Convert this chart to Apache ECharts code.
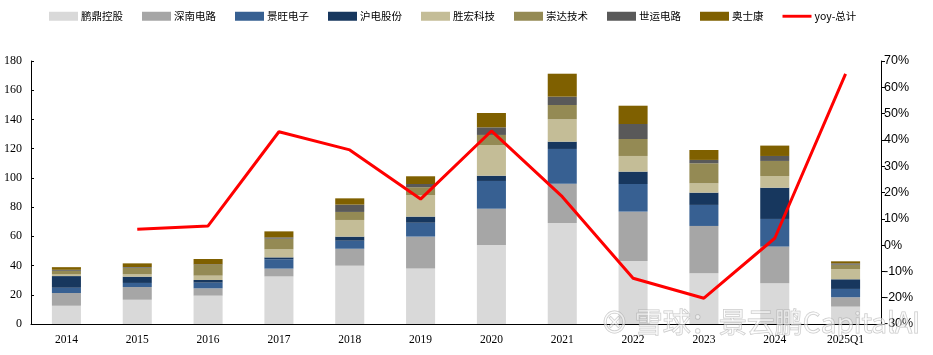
<!DOCTYPE html>
<html><head><meta charset="utf-8">
<script src="https://cdn.jsdelivr.net/npm/echarts@6/dist/echarts.min.js"></script>
<style>html,body{margin:0;padding:0;background:#fff}#c{width:933px;height:355px}</style>
</head><body><div id="c"></div>
<script>
var categories = ['2014','2015','2016','2017','2018','2019','2020','2021','2022','2023','2024','2025Q1'];
var pengding  = [12.5,16.6,19.4,32.6,39.9,37.9,54.1,69.1,43.1,34.7,27.9,11.9];
var shennan   = [8.7,8.7,5.0,5.3,11.6,21.9,24.8,26.9,33.8,32.4,25.1,6.4];
var jingwang  = [3.6,2.8,3.9,6.4,5.5,9.5,19.0,23.8,18.9,14.4,18.9,5.7];
var hudian    = [8.0,4.3,1.8,1.3,2.8,4.2,3.6,5.0,8.5,8.4,21.4,6.6];
var shenghong = [1.1,1.6,3.0,5.5,11.4,14.8,21.0,15.3,10.7,6.4,8.0,7.0];
var chongda   = [2.5,4.5,7.3,7.3,5.5,5.3,6.9,9.8,11.6,13.7,10.3,3.0];
var shiyun    = [0.7,0.5,0.4,0.9,5.0,2.2,5.2,5.7,10.3,2.3,3.4,0.9];
var aoshikang = [1.8,2.5,3.7,4.1,4.3,5.3,9.8,15.7,12.5,6.8,7.1,1.4];
var yoy       = [null,6.0,7.3,43.1,36.2,17.5,43.4,18.4,-12.6,-20.2,2.6,65.1];
var leftTicks = {min:0, max:180, interval:20};
var rightTicks = {min:-30, max:70, interval:10};

var names = ['鹏鼎控股','深南电路','景旺电子','沪电股份','胜宏科技','崇达技术','世运电路','奥士康'];
var datas = [pengding,shennan,jingwang,hudian,shenghong,chongda,shiyun,aoshikang];
var colors = ['#d9d9d9','#a6a6a6','#376092','#17375e','#c4bd97','#948a54','#595959','#7f6000'];
var serif = '"Liberation Serif","Noto Sans CJK SC",serif';

var series = names.map(function(n,i){
  return {name:n, type:'bar', stack:'t', data:datas[i], barWidth:'41%',
    itemStyle:{color:colors[i]}, emphasis:{disabled:true}};
});
series.push({name:'yoy-总计', type:'line', yAxisIndex:1, data:yoy, symbol:'none',
  lineStyle:{color:'#ff0000', width:3}, itemStyle:{color:'#ff0000'}, z:10});

var chart = echarts.init(document.getElementById('c'), null, {renderer:'canvas'});
chart.setOption({
  animation:false,
  legend:{top:6, left:44, itemWidth:29, itemHeight:9, itemGap:19, 
    textStyle:{fontFamily:'"Noto Sans CJK SC",serif', fontSize:10.5, color:'#000', padding:[0,0,0,-2]},
    data: names.map(function(n,i){return {name:n, icon:'rect'};}).concat([{name:'yoy-总计', icon:'path://M0,0 L10,0 L10,1 L0,1 Z'}])},
  grid:{left:31, right:52, top:61, bottom:31},
  xAxis:{type:'category', data:categories,
    axisLine:{lineStyle:{color:'#000', width:1}},
    axisTick:{inside:true, length:3, lineStyle:{color:'#000'}},
    axisLabel:{fontFamily:serif, fontSize:11.5, color:'#000', margin:10}},
  yAxis:[
    {type:'value', min:leftTicks.min, max:leftTicks.max, interval:leftTicks.interval,
      axisLine:{show:true, lineStyle:{color:'#000'}},
      axisTick:{show:true, inside:true, length:3, lineStyle:{color:'#000'}},
      splitLine:{show:false},
      axisLabel:{fontFamily:serif, fontSize:12, color:'#000', margin:9}},
    {type:'value', min:rightTicks.min, max:rightTicks.max, interval:rightTicks.interval,
      axisLine:{show:true, lineStyle:{color:'#000'}},
      axisTick:{show:true, length:4, lineStyle:{color:'#000'}},
      splitLine:{show:false},
      axisLabel:{fontFamily:'"Liberation Sans",Arial,sans-serif', fontSize:12.5, color:'#000', margin:3,
        formatter:function(v){return v+'%';}}}
  ],
  series:series,
  graphic:[{type:'text', left:600, top:308, z:100, silent:true,
    style:{text:'⊗ 雪球：景云鹏CapitalAI', font:'28px "Noto Sans CJK SC",sans-serif',
      fill:'rgba(255,255,255,0.55)', stroke:'rgba(150,150,150,0.55)', lineWidth:1}}]
});
</script></body></html>
